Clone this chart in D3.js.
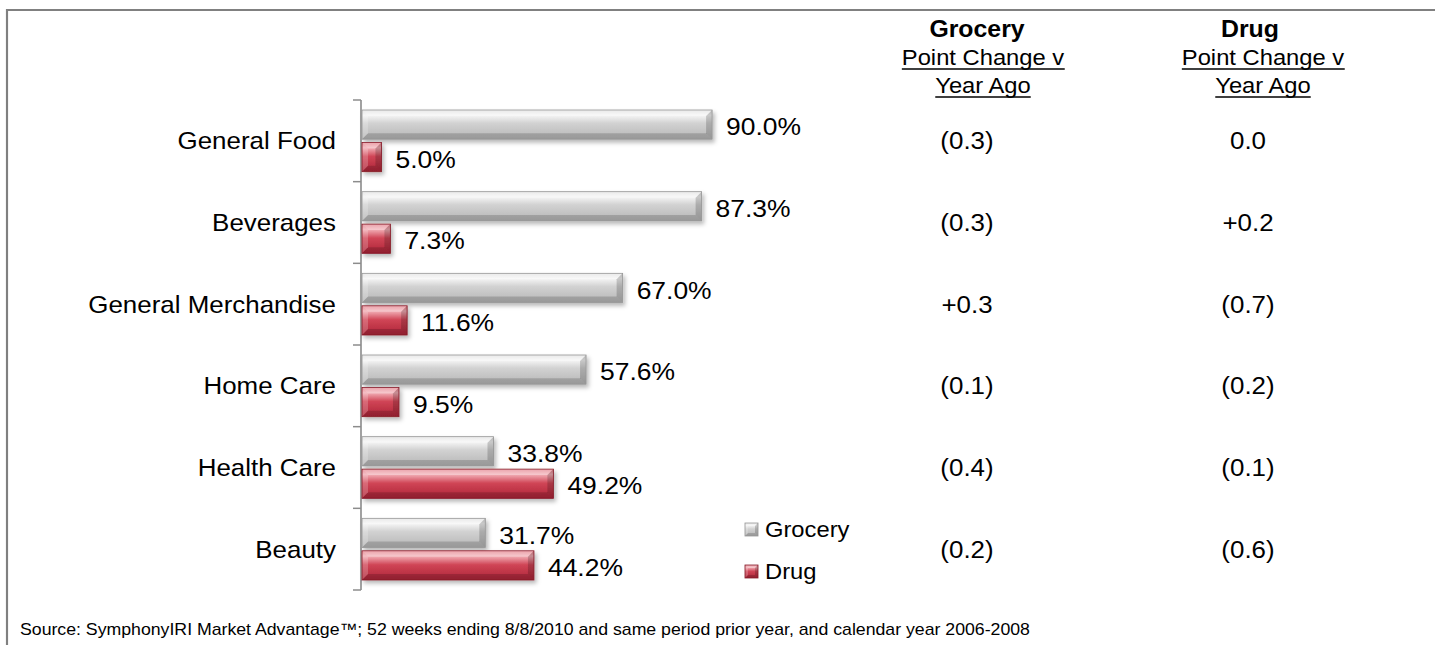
<!DOCTYPE html>
<html>
<head>
<meta charset="utf-8">
<script src="https://cdn.jsdelivr.net/npm/d3@7"></script>
<style>
  html, body { margin: 0; padding: 0; background: #fff; }
  svg { display: block; }
  text { font-family: "Liberation Sans", Arial, sans-serif; fill: #000; }
</style>
</head>
<body>
<svg id="chart" width="1435" height="645"></svg>
<script>
// Share of category sales by channel (percent)
const categories = ["General Food", "Beverages", "General Merchandise", "Home Care", "Health Care", "Beauty"];
const series = ["Grocery", "Drug"];
const grocery = [90.0, 87.3, 67.0, 57.6, 33.8, 31.7];
const drug = [5.0, 7.3, 11.6, 9.5, 49.2, 44.2];
// Point change versus year ago, as printed
const groceryChange = ["(0.3)", "(0.3)", "+0.3", "(0.1)", "(0.4)", "(0.2)"];
const drugChange = ["0.0", "+0.2", "(0.7)", "(0.2)", "(0.1)", "(0.6)"];
const changeHeaders = [
  { title: "Grocery", values: groceryChange },
  { title: "Drug", values: drugChange }
];
const sourceNote = "Source:  SymphonyIRI Market Advantage\u2122; 52 weeks ending 8/8/2010 and same period prior year, and calendar year 2006-2008";

const W = 1435, H = 645;
const SX = 1.08;               // slide content is drawn slightly wide
const px = v => v / SX;        // screen x -> local x

const svg = d3.select("#chart");
const defs = svg.append("defs");

const palettes = {
  Grocery: { stops: [["0%", "#e0e0e0"], ["18%", "#f5f5f5"], ["45%", "#d2d2d2"], ["100%", "#b6b6b6"]], stroke: "#979797" },
  Drug: { stops: [["0%", "#e27c87"], ["18%", "#f2afb6"], ["48%", "#d04556"], ["100%", "#ad2437"]], stroke: "#871c2a" }
};
series.forEach(s => {
  const g = defs.append("linearGradient").attr("id", "grad-" + s)
    .attr("x1", 0).attr("y1", 0).attr("x2", 0).attr("y2", 1);
  palettes[s].stops.forEach(([o, c]) => g.append("stop").attr("offset", o).attr("stop-color", c));
});
const shadow = defs.append("filter").attr("id", "shadow")
  .attr("x", "-5%").attr("y", "-20%").attr("width", "115%").attr("height", "160%");
shadow.append("feDropShadow").attr("dx", 2).attr("dy", 3).attr("stdDeviation", 2)
  .attr("flood-color", "#000").attr("flood-opacity", 0.28);

const root = svg.append("g").attr("transform", `scale(${SX},1)`);

// slide frame (top and left edges)
root.append("path")
  .attr("d", `M${px(W)},10 H${px(7)} V${H}`)
  .attr("fill", "none").attr("stroke", "#808080").attr("stroke-width", 2);

const y = d3.scaleBand().domain(categories).range([100, 590]);
const ySeries = d3.scaleBand().domain(series).range([10, y.bandwidth() - 10]).paddingInner(0.1);
const x = d3.scaleLinear().domain([0, 100]).range([px(362), px(751)]);

// bevelled bar: gradient body plus light/dark edge facets
function bevelBar(g, x0, x1, y0, y1, s, bevel) {
  const h = y1 - y0;
  const b = Math.min(bevel, h / 3, (x1 - x0) * SX / 2);
  const bx = b / SX;
  g.append("rect").attr("x", x0).attr("y", y0).attr("width", x1 - x0).attr("height", h)
    .attr("fill", `url(#grad-${s})`);
  const facet = (pts, fill, op) => g.append("polygon")
    .attr("points", pts.map(p => p.join(",")).join(" ")).attr("fill", fill).attr("fill-opacity", op);
  facet([[x0, y0], [x1, y0], [x1 - bx, y0 + b], [x0 + bx, y0 + b]], "#fff", 0.3);
  facet([[x0, y1], [x1, y1], [x1 - bx, y1 - b], [x0 + bx, y1 - b]], "#000", 0.16);
  facet([[x0, y0], [x0 + bx, y0 + b], [x0 + bx, y1 - b], [x0, y1]], "#fff", 0.2);
  facet([[x1, y0], [x1 - bx, y0 + b], [x1 - bx, y1 - b], [x1, y1]], "#000", 0.18);
  g.append("rect").attr("x", x0).attr("y", y0).attr("width", x1 - x0).attr("height", h)
    .attr("fill", "none").attr("stroke", palettes[s].stroke).attr("stroke-width", 0.8);
}

// category axis: line with ticks on band boundaries
const axis = root.append("g").attr("stroke", "#8c8c8c").attr("stroke-width", 1.5);
axis.append("line").attr("x1", px(361)).attr("x2", px(361)).attr("y1", y.range()[0]).attr("y2", y.range()[1]);
const boundaries = categories.map(c => y(c)).concat([y.range()[1]]);
axis.selectAll("line.tick").data(boundaries).join("line").attr("class", "tick")
  .attr("x1", px(353)).attr("x2", px(361)).attr("y1", d => d).attr("y2", d => d);

root.append("g").selectAll("text").data(categories).join("text")
  .attr("x", px(336)).attr("y", d => y(d) + y.bandwidth() / 2)
  .attr("text-anchor", "end").attr("dominant-baseline", "central")
  .style("font-size", "24px").text(d => d);

// bars
const rows = categories.map((c, i) => ({ cat: c, Grocery: grocery[i], Drug: drug[i] }));
const bars = root.append("g").attr("filter", "url(#shadow)");
rows.forEach(r => {
  series.forEach(s => {
    const y0 = y(r.cat) + ySeries(s);
    bevelBar(bars.append("g"), x(0), x(r[s]), y0, y0 + ySeries.bandwidth(), s, 6);
  });
});

// value labels
const fmt = d3.format(".1f");
const labels = root.append("g");
rows.forEach(r => {
  series.forEach(s => {
    labels.append("text")
      .attr("x", x(r[s]) + px(14))
      .attr("y", y(r.cat) + ySeries(s) + ySeries.bandwidth() / 2 + 2)
      .attr("dominant-baseline", "central")
      .style("font-size", "24.5px")
      .text(fmt(r[s]) + "%");
  });
});

// point-change columns
const colX = { Grocery: { value: 967, title: 977, sub: 983 }, Drug: { value: 1248, title: 1250, sub: 1263 } };
changeHeaders.forEach(col => {
  const c = colX[col.title];
  const g = root.append("g");
  g.append("text").attr("x", px(c.title)).attr("y", 37).attr("text-anchor", "middle")
    .style("font-size", "23px").style("font-weight", "bold").text(col.title);
  [["Point Change v", 65], ["Year Ago", 93]].forEach(([t, by]) => {
    const txt = g.append("text").attr("x", px(c.sub)).attr("y", by).attr("text-anchor", "middle")
      .style("font-size", "22px").text(t);
    const bb = txt.node().getBBox();
    g.append("line").attr("x1", bb.x).attr("x2", bb.x + bb.width).attr("y1", by + 4).attr("y2", by + 4)
      .attr("stroke", "#000").attr("stroke-width", 1.4);
  });
  g.selectAll("text.val").data(col.values).join("text").attr("class", "val")
    .attr("x", px(c.value)).attr("y", (d, i) => y(categories[i]) + y.bandwidth() / 2)
    .attr("text-anchor", "middle").attr("dominant-baseline", "central")
    .style("font-size", "24px").text(d => d);
});

// legend
const legend = root.append("g");
series.forEach((s, i) => {
  const ly = 523 + i * 42;
  const g = legend.append("g");
  bevelBar(g, px(745), px(758), ly, ly + 13, s, 3);
  legend.append("text").attr("x", px(765)).attr("y", ly + 6.5)
    .attr("dominant-baseline", "central").style("font-size", "22px").text(s);
});

// source note
root.append("text").attr("x", px(20)).attr("y", 635)
  .style("font-size", "16.4px").style("fill", "#000").text(sourceNote);
</script>
</body>
</html>
